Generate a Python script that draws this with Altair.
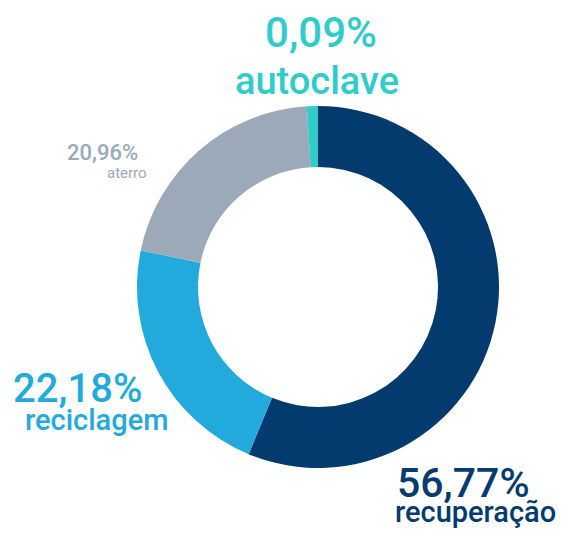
import altair as alt
import pandas as pd

# Data
categories = ["recuperação", "reciclagem", "aterro", "autoclave"]
percent_labels = ["56,77%", "22,18%", "20,96%", "0,09%"]
percent_values = [56.77, 22.18, 20.96, 0.09]
# the tiny autoclave slice is drawn at ~1% in the reference (minimum visible slice)
slice_values = [56.77, 22.18, 20.96, 1.0]
colors = ["#033B6E", "#22AADD", "#9BA9B9", "#30CCCA"]

df = pd.DataFrame({
    "categoria": categories,
    "pct": percent_labels,
    "valor": percent_values,
    "fatia": slice_values,
    "ordem": list(range(len(categories))),
})

CX, CY = 310, 279
R_OUT, R_IN = 181, 120

color_scale = alt.Scale(domain=categories, range=colors)

donut = alt.Chart(df).mark_arc(outerRadius=R_OUT, innerRadius=R_IN).encode(
    theta=alt.Theta("fatia:Q", stack=True),
    order=alt.Order("ordem:Q"),
    color=alt.Color("categoria:N", scale=color_scale, legend=None),
    x=alt.value(CX),
    y=alt.value(CY),
)

# label layout: (category, field, x, y, size, align, weight)
label_specs = [
    ("autoclave", "pct", 313, 39, 42, "center", 500),
    ("autoclave", "categoria", 309, 86, 38, "center", 500),
    ("aterro", "pct", 59, 152, 22, "left", 500),
    ("aterro", "categoria", 99, 170, 15, "left", 400),
    ("reciclagem", "pct", 5, 394, 40, "left", 500),
    ("reciclagem", "categoria", 17, 422, 29, "left", 500),
    ("recuperação", "pct", 389, 489, 41, "left", 500),
    ("recuperação", "categoria", 387, 514, 29, "left", 500),
]

layers = [donut]
for cat, field, x, y, size, align, weight in label_specs:
    layers.append(
        alt.Chart(df)
        .transform_filter(alt.datum.categoria == cat)
        .mark_text(
            font="Roboto",
            fontSize=size,
            fontWeight=weight,
            align=align,
            baseline="alphabetic",
            color=colors[categories.index(cat)],
        )
        .encode(text=f"{field}:N", x=alt.value(x), y=alt.value(y))
    )

chart = (
    alt.layer(*layers)
    .properties(width=551, height=520, padding=0, autosize=alt.AutoSizeParams(type="none"))
    .configure_view(stroke=None, strokeWidth=0)
)

chart.save("out.html", embed_options={"renderer": "svg", "actions": False})
